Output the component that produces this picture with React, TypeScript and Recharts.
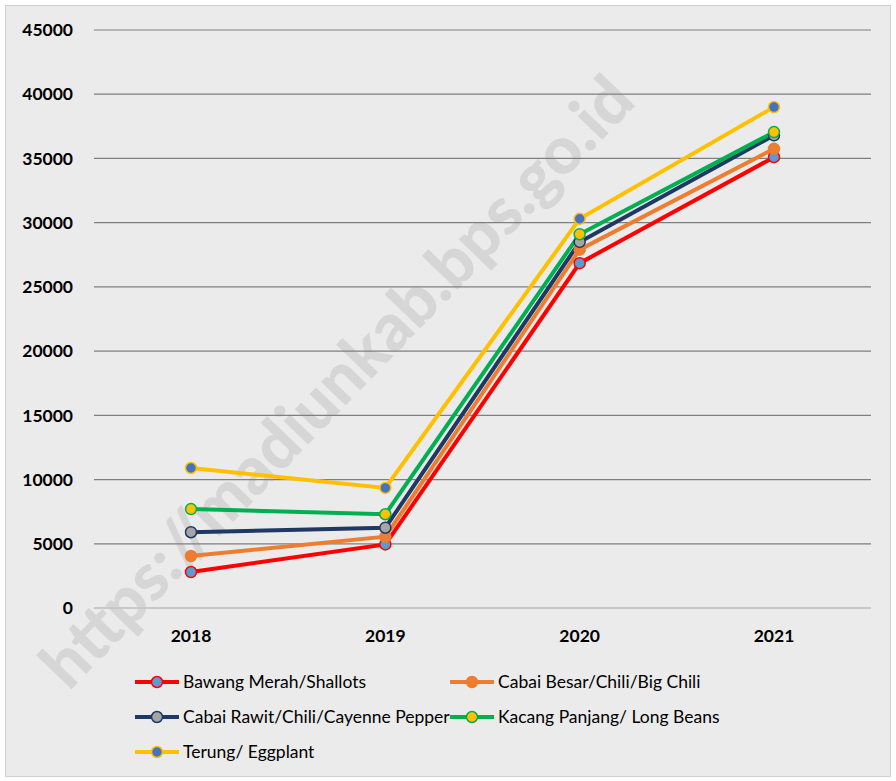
import React from 'react';
import { LineChart, Line, XAxis, YAxis, CartesianGrid, Legend } from 'recharts';

const years = ['2018', '2019', '2020', '2021'];
const shallots = [2800, 4950, 26850, 35100];
const bigChili = [4050, 5550, 27900, 35750];
const cayenne = [5900, 6250, 28500, 36800];
const longBeans = [7700, 7300, 29100, 37050];
const eggplant = [10900, 9350, 30300, 39000];
const yTicks = [0, 5000, 10000, 15000, 20000, 25000, 30000, 35000, 40000, 45000];

const series = [
  { key: 'shallots', name: 'Bawang Merah/Shallots', stroke: '#ff0000', dot: '#5b9bd5', values: shallots },
  { key: 'bigChili', name: 'Cabai Besar/Chili/Big Chili', stroke: '#ed7d31', dot: '#ed7d31', values: bigChili },
  { key: 'cayenne', name: 'Cabai Rawit/Chili/Cayenne Pepper', stroke: '#203864', dot: '#a5a5a5', values: cayenne },
  { key: 'longBeans', name: 'Kacang Panjang/ Long Beans', stroke: '#00b050', dot: '#ffc000', values: longBeans },
  { key: 'eggplant', name: 'Terung/ Eggplant', stroke: '#ffc000', dot: '#4472c4', values: eggplant },
];

const data = years.map((year, i) => {
  const row: Record<string, string | number> = { year };
  series.forEach((s) => (row[s.key] = s.values[i]));
  return row;
});

const FONT = 'Lato, "Open Sans", sans-serif';

// legend laid out in two columns like the Excel original
const renderLegend = () => (
  <div
    style={{
      display: 'grid',
      gridTemplateColumns: '315px 320px',
      rowGap: 12,
      paddingLeft: 135,
      fontFamily: FONT,
      fontSize: 17.5,
      color: '#000',
    }}
  >
    {series.map((s) => (
      <div key={s.key} style={{ display: 'flex', alignItems: 'center', height: 23 }}>
        <svg width={46} height={14} style={{ marginRight: 2 }}>
          <line x1={0} y1={7} x2={44} y2={7} stroke={s.stroke} strokeWidth={4} />
          <circle cx={22} cy={7} r={5.5} fill={s.dot} stroke={s.stroke} strokeWidth={1.5} />
        </svg>
        <span>{s.name}</span>
      </div>
    ))}
  </div>
);

export default function App() {
  return (
    <div style={{ position: 'absolute', left: 0, top: 0, width: 896, height: 781, background: '#ffffff', overflow: 'hidden' }}>
      <div
        style={{
          position: 'absolute',
          left: 5,
          top: 5,
          width: 886,
          height: 772,
          background: '#ebebeb',
          border: '1px solid #d2d2d2',
          boxSizing: 'border-box',
        }}
      />
      <div
        style={{
          position: 'absolute',
          left: 335,
          top: 380,
          transform: 'translate(-50%, -50%) rotate(-46deg)',
          fontFamily: FONT,
          fontWeight: 900,
          fontSize: 66,
          color: 'rgba(130,130,130,0.2)',
          whiteSpace: 'nowrap',
          pointerEvents: 'none',
        }}
      >
        https://madiunkab.bps.go.id
      </div>
      <div style={{ position: 'absolute', left: 0, top: 0 }}>
        <LineChart width={896} height={781} data={data} margin={{ top: 30, right: 25, left: 0, bottom: 143 }}>
          <CartesianGrid horizontal vertical={false} stroke="#7f7f7f" strokeWidth={1.2} />
          <XAxis
            dataKey="year"
            height={30}
            padding={{ left: 97, right: 97 }}
            axisLine={{ stroke: '#d0d0d0', strokeWidth: 1.5 }}
            tickLine={false}
            tickSize={0}
            tickMargin={22}
            tick={{ fill: '#000', fontSize: 17.5, fontWeight: 700, fontFamily: FONT }}
          />
          <YAxis
            width={94}
            domain={[0, 45000]}
            ticks={yTicks}
            interval={0}
            axisLine={false}
            tickLine={false}
            tickSize={0}
            tickMargin={21}
            tick={{ fill: '#000', fontSize: 17.5, fontWeight: 700, fontFamily: FONT }}
          />
          <Legend
            verticalAlign="middle"
            align="center"
            layout="horizontal"
            content={renderLegend}
            wrapperStyle={{ top: 670, left: 0, width: 896 }}
          />
          {series.map((s) => (
            <Line
              key={s.key}
              type="linear"
              dataKey={s.key}
              name={s.name}
              stroke={s.stroke}
              strokeWidth={4}
              dot={{ r: 5.5, fill: s.dot, stroke: s.stroke, strokeWidth: 1.5 }}
              activeDot={false}
              isAnimationActive={false}
            />
          ))}
        </LineChart>
      </div>
    </div>
  );
}
